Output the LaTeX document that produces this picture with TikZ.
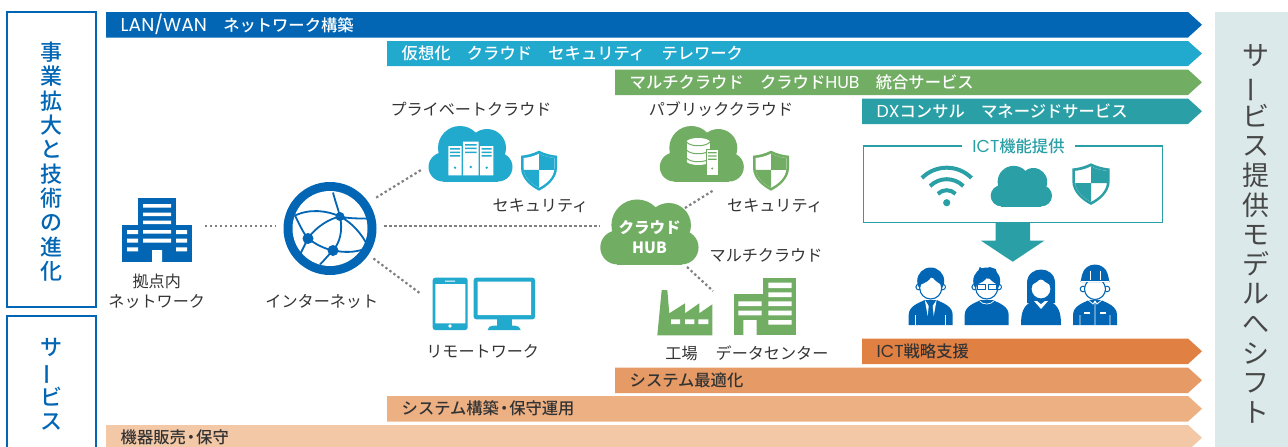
\documentclass[tikz,border=0pt]{standalone}
\usepackage{fontspec}
\usepackage{graphicx}
\setmainfont{Noto Sans CJK JP}
\newfontfamily\jpMedium{Noto Sans CJK JP Medium}
\newfontfamily\latinWide{Poppins}
\usetikzlibrary{positioning}
\definecolor{lanBlue}{RGB}{2, 102, 180}
\definecolor{cloudCyan}{RGB}{34, 169, 206}
\definecolor{hubGreen}{RGB}{114, 173, 100}
\definecolor{dxTeal}{RGB}{42, 159, 166}
\definecolor{ictOrange}{RGB}{224, 128, 67}
\definecolor{optOrange}{RGB}{230, 154, 102}
\definecolor{buildOrange}{RGB}{236, 176, 131}
\definecolor{saleOrange}{RGB}{243, 200, 166}
\definecolor{shiftPanel}{RGB}{220, 233, 234}
\definecolor{inkGray}{RGB}{51, 51, 51}
\definecolor{dotGray}{RGB}{128, 128, 128}
\newcommand{\shieldpath}{(0,0) .. controls (6,3) and (12,4.5) .. (18,5) -- (18,17) .. controls (18,28) and (8,36) .. (0,40) .. controls (-8,36) and (-18,28) .. (-18,17) -- (-18,5) .. controls (-12,4.5) and (-6,3) .. (0,0) -- cycle}
\newcommand{\nobar}{\rotatebox[origin=c]{90}{ー}}
\newcommand{\latin}[2][17.3]{{\latinWide\fontsize{#1}{18}\selectfont #2}}
% Band: name, left x, top y, bottom y, fill, label style, text
\newcommand{\bandrow}[7]{
    \fill [#5] (#2,#3) -- (1188,#3) -- (1202,{(#3+#4)/2}) -- (1188,#4) -- (#2,#4) -- cycle;
    \node (#1) [#6] at (#2+14.5,{(#3+#4)/2}) {#7};
}
\tikzset{
    % Text Styles
    bandWhite/.style={anchor=west, inner sep=0pt, text=white, font=\jpMedium\fontsize{16.3}{18}\selectfont},
    bandDark/.style={anchor=west, inner sep=0pt, text=inkGray, font=\jpMedium\fontsize{16.3}{18}\selectfont},
    iconLabel/.style={inner sep=0pt, text=inkGray, font=\fontsize{16.1}{18}\selectfont},
    sideLabel/.style={align=center, inner sep=0pt, text=lanBlue},
    % Line Styles
    sideBox/.style={draw=lanBlue, line width=1.8pt},
    dotLine/.style={draw=dotGray, line width=2.2pt, dash pattern=on 2.4pt off 2.6pt},
    % Icons
    pics/cloudicon/.style={code={
        \fill [#1] (-28,-15) circle [radius=14.5];
        \fill [#1] (-11,-34) circle [radius=22];
        \fill [#1] (16,-34) circle [radius=19];
        \fill [#1] (27,-15) circle [radius=14.5];
        \fill [#1] (-28,-24) rectangle (27,0);
    }},
    pics/shieldicon/.style={code={
        \fill [#1] \shieldpath;
        \begin{scope}[shift={(0,3)}, scale=.85]
            \fill [white] \shieldpath;
            \clip \shieldpath;
            \fill [#1] (0,0) rectangle (18,19) (-18,19) rectangle (0,40);
        \end{scope}
    }},
    pics/globeicon/.style={code={
        \fill [lanBlue] (0,0) circle [radius=46.5];
        \fill [white] (0,0) circle [radius=37.5];
        \draw [lanBlue, line width=1.8pt]
            (-35,-13) .. controls (-20,-20) and (-3,-18) .. (10,-12) .. controls (18,-10) and (28,-10) .. (37,-10)
            (3,-36) .. controls (5,-28) and (8,-20) .. (10,-12) .. controls (13,2) and (10,14) .. (3,22) .. controls (-2,27) and (-6,32) .. (-10,36)
            (-22,10) .. controls (-14,-2) and (0,-10) .. (10,-12) .. controls (22,-6) and (32,6) .. (37,16)
            (-35,-13) .. controls (-30,-3) and (-27,4) .. (-22,10) .. controls (-14,16) and (-6,20) .. (3,22) .. controls (14,24) and (24,24) .. (33,21)
            (-22,10) -- (-30,26);
        \fill [lanBlue] (-22,10) circle [radius=5.5] (3,22) circle [radius=5.5] (10,-12) circle [radius=4.5];
    }},
    pics/headicon/.style={code={
        \filldraw [fill=white, draw=lanBlue, line width=1pt] (-12,-38) circle [radius=2.8];
        \filldraw [fill=white, draw=lanBlue, line width=1pt] (12,-38) circle [radius=2.8];
        \fill [lanBlue] (0,-44) circle [radius=13.5];
        \filldraw [fill=white, draw=lanBlue, line width=1.1pt] (0,-37) circle [radius=11];
        \fill [lanBlue] (-11,-40) .. controls (-6,-42) and (-1,-44) .. (1,-49) .. controls (4,-44) and (8,-42) .. (11,-40) -- (10,-46) -- (0,-50) -- (-10,-46) -- cycle;
    }},
    pics/bodyicon/.style={code={
        \fill [lanBlue] (-22,0) -- (-22,-10) .. controls (-22,-19) and (-12,-22) .. (-6,-25) -- (6,-25) .. controls (12,-22) and (22,-19) .. (22,-10) -- (22,0) -- cycle;
    }},
    pics/personSuit/.style={code={
        \pic {bodyicon};
        \pic {headicon};
        \fill [white] (-6,-25.5) -- (-2,-19) -- (-3,-9) -- cycle;
        \fill [white] (6,-25.5) -- (2,-19) -- (3,-9) -- cycle;
        \draw [white, line width=.7pt] (-15,0) -- (-15,-10) (15,0) -- (15,-10);
    }},
    pics/personGlasses/.style={code={
        \pic {bodyicon};
        \pic {headicon};
        \fill [lanBlue] (-11,-47) -- (-7,-58) -- (-2,-55) -- (3,-58) -- (9,-56) -- (12,-46) -- cycle;
        \filldraw [fill=white, draw=lanBlue, line width=.8pt] (-9.5,-41) rectangle (-1.5,-36);
        \filldraw [fill=white, draw=lanBlue, line width=.8pt] (1.5,-41) rectangle (9.5,-36);
        \draw [white, line width=.7pt] (-7,-24) .. controls (-4,-20) and (4,-20) .. (7,-24);
    }},
    pics/personWoman/.style={code={
        \fill [lanBlue] (-20,0) .. controls (-20,-12) and (-18,-20) .. (-8,-24) -- (8,-24) .. controls (18,-20) and (20,-12) .. (20,0) -- cycle;
        \fill [lanBlue] (-14,-22) -- (-14,-42) .. controls (-14,-60) and (14,-60) .. (14,-42) -- (14,-22) -- cycle;
        \filldraw [fill=white, draw=lanBlue, line width=1.1pt] (0,-36) circle [radius=10];
        \fill [lanBlue] (-10,-40) .. controls (-5,-42) and (-1,-45) .. (0,-48) .. controls (1,-45) and (5,-42) .. (10,-40) -- (9,-47) -- (-9,-47) -- cycle;
        \fill [white] (-7,-24) -- (0,-16) -- (7,-24) -- cycle;
        \fill [lanBlue] (-5,-25) -- (5,-25) -- (0,-21) -- cycle;
    }},
    pics/personWorker/.style={code={
        \pic {bodyicon};
        \filldraw [fill=white, draw=lanBlue, line width=1pt] (-12,-36) circle [radius=2.8];
        \filldraw [fill=white, draw=lanBlue, line width=1pt] (12,-36) circle [radius=2.8];
        \filldraw [fill=white, draw=lanBlue, line width=1.1pt] (0,-36) circle [radius=10.5];
        \fill [lanBlue] (-14.5,-43) -- (-13,-50) .. controls (-10,-64) and (10,-64) .. (13,-50) -- (14.5,-43) -- cycle;
        \draw [white, line width=.7pt] (-5,-45) -- (-5,-54) (5,-45) -- (5,-54) (-14,-43.5) -- (14,-43.5);
        \draw [white, line width=.8pt] (0,0) -- (0,-24) (-8,-26) -- (-2,-21) -- (0,-24) -- (2,-21) -- (8,-26) (-15,0) -- (-15,-10) (15,0) -- (15,-10);
        \draw [white, line width=1.6pt] (-11,-12) -- (-5,-12) (5,-12) -- (11,-12);
    }}
}
\begin{document}
\begin{tikzpicture}[x=1pt, y=-1pt]
    \useasboundingbox (0,0) rectangle (1288,447);

    % --- SIDE PANELS ---
    \fill [shiftPanel] (1215,12) rectangle (1288,447);
    \node (shift) [align=center, inner sep=0pt, text=inkGray!90, font=\fontsize{27}{29.6}\selectfont] at (1255.5,234) {サ\\\nobar\\ビ\\ス\\提\\供\\モ\\デ\\ル\\へ\\シ\\フ\\ト};

    \draw [sideBox] (7,12) rectangle (96,307);
    \node (growth) [sideLabel, font=\jpMedium\fontsize{22}{24.35}\selectfont] at (51.5,161.5) {事\\業\\拡\\大\\と\\技\\術\\の\\進\\化};
    \draw [sideBox] (7,316) rectangle (96,455);
    \node (service) [sideLabel, font=\jpMedium\fontsize{22}{24.3}\selectfont] at (51,384) {サ\\\nobar\\ビ\\ス};

    % --- BANDS ---
    \bandrow{bandLan}{106}{12}{37.5}{lanBlue}{bandWhite}{\latin[18.6]{LAN/WAN}　ネットワーク構築}
    \bandrow{bandVirtual}{387}{41}{66}{cloudCyan}{bandWhite}{仮想化　クラウド　セキュリティ　テレワーク}
    \bandrow{bandMulti}{615}{69.5}{95}{hubGreen}{bandWhite}{マルチクラウド　クラウド\latin{HUB}　統合サービス}
    \bandrow{bandDx}{862}{98.5}{124}{dxTeal}{bandWhite}{\latin{DX}コンサル　マネージドサービス}
    \bandrow{bandIct}{862}{338.5}{364}{ictOrange}{bandDark}{\latin{ICT}戦略支援}
    \bandrow{bandOpt}{615}{367.5}{393}{optOrange}{bandDark}{システム最適化}
    \bandrow{bandBuild}{387}{396}{421.5}{buildOrange}{bandDark}{システム構築\kern-3pt・\kern-3pt 保守運用}
    \bandrow{bandSale}{106}{425}{450.5}{saleOrange}{bandDark}{機器販売\kern-3pt・\kern-3pt 保守}

    % --- LEFT SIDE (Site & Internet) ---
    \fill [lanBlue] (138.3,198) rectangle (176,262);
    \fill [lanBlue] (122.3,225) rectangle (191.7,262);
    \fill [white] (143,204) rectangle (171,207.5) (143,212.5) rectangle (171,216) (143,220.5) rectangle (171,224)
        (143,230) rectangle (171,233.5) (143,238.7) rectangle (171,242.7)
        (127,230) rectangle (138,234) (127,238.7) rectangle (138,242.7) (127,247.3) rectangle (138,251.3)
        (176,230) rectangle (187,234) (176,238.7) rectangle (187,242.7) (176,247.3) rectangle (187,251.3)
        (152,250) rectangle (162,262);
    \node (siteLabel) [iconLabel] at (156.7,281.5) {拠点内};
    \node (siteNet) [iconLabel] at (156.7,302) {ネットワーク};

    \pic at (330,228.5) {globeicon};
    \node (globe) [circle, minimum size=108pt, inner sep=0pt] at (330,226) {};
    \node (globeLabel) [iconLabel] at (321.8,302) {インターネット};

    % --- MIDDLE COLUMN (Private Cloud & Remote Work) ---
    \node (privateLabel) [iconLabel] at (471,109) {プライベートクラウド};
    \pic at (471,182) {cloudicon=cloudCyan};
    \fill [white] (448.3,146) rectangle (461.7,175.3) (463,141.7) rectangle (478.7,175.3) (480,146) rectangle (493.3,175.3);
    \fill [cloudCyan] (450,148) rectangle (460,149.5) (450,151.5) rectangle (460,153) (450,155) rectangle (460,156.5)
        (465,144) rectangle (476.7,145.5) (465,147.5) rectangle (476.7,149) (465,151.5) rectangle (476.7,153)
        (481.7,148) rectangle (491.7,149.5) (481.7,151.5) rectangle (491.7,153) (481.7,155) rectangle (491.7,156.5)
        (455,167.7) circle [radius=1.3] (470.7,167) circle [radius=1.4] (486.7,167.7) circle [radius=1.3];
    \pic at (539,150.7) {shieldicon=cloudCyan};
    \node (privateShield) [iconLabel] at (540.5,205.5) {セキュリティ};

    \fill [cloudCyan, rounded corners=2.5pt] (432.7,277.7) rectangle (467.7,330);
    \fill [cloudCyan, rounded corners=2.5pt] (473.7,277.7) rectangle (535,319.3);
    \fill [white] (435.3,284) rectangle (465.3,323.3) (477.7,281.7) rectangle (531,315)
        (445,280.5) rectangle (455,281.5) (450,326) circle [radius=1.9];
    \fill [cloudCyan] (496.7,319) rectangle (511.7,326);
    \fill [cloudCyan] (487.7,330) .. controls (488,327) and (490,325.7) .. (493,325.7) -- (515,325.7) .. controls (518,325.7) and (520,327) .. (520.7,330) -- cycle;
    \node (remoteLabel) [iconLabel] at (482.7,351) {リモートワーク};

    % --- HUB COLUMN (Public Cloud & Hub) ---
    \node (publicLabel) [iconLabel] at (721,109) {パブリッククラウド};
    \pic at (702.3,182) {cloudicon=hubGreen};
    \fill [white] (686.7,142) rectangle (710,161);
    \fill [white] (698.3,142) ellipse [x radius=11.7, y radius=4];
    \fill [white] (698.3,161) ellipse [x radius=11.7, y radius=4];
    \draw [hubGreen, line width=1pt] (686.7,142) .. controls (690,147) and (706,147) .. (710,142)
        (686.7,150) .. controls (690,155) and (706,155) .. (710,150) (686.7,158) .. controls (690,163) and (706,163) .. (710,158);
    \filldraw [fill=white, draw=hubGreen, line width=1pt] (706,149.3) rectangle (718.5,175.3);
    \fill [hubGreen] (708,152) rectangle (716.5,153.3) (708,155.3) rectangle (716.5,156.6) (708,158.6) rectangle (716.5,159.9) (712.2,168.5) circle [radius=1.2];
    \pic at (771,150.7) {shieldicon=hubGreen};
    \node (publicShield) [iconLabel] at (775,205.5) {セキュリティ};

    \pic [scale=1.17] at (650,265) {cloudicon=hubGreen};
    \node (hub) [align=center, inner sep=0pt, text=white, font=\bfseries\fontsize{15.5}{20.5}\selectfont] at (649.5,237) {クラウド\\HUB};
    \node (multiLabel) [iconLabel] at (766,255.7) {マルチクラウド};

    \fill [hubGreen] (657.3,335.3) -- (661.7,290) -- (667.3,290) -- (669.3,313.3) -- (685,303.3) -- (685,313.3) -- (699.3,303.3) -- (699.3,313.3) -- (712.3,304.3) -- (712.3,335.3) -- cycle;
    \fill [white] (671,319.3) rectangle (680,324) (685,319.3) rectangle (694.3,324) (698.3,319.3) rectangle (708.3,324);
    \fill [hubGreen] (763.3,277.7) rectangle (796,335.3);
    \fill [hubGreen] (733.7,294.3) rectangle (763.3,335.3);
    \fill [white] (768.3,282.7) rectangle (791.7,288) (768.3,292.3) rectangle (791.7,297) (768.3,301.3) rectangle (791.7,306)
        (768.3,310.7) rectangle (791.7,315.3) (768.3,320) rectangle (791.7,324.7)
        (738.3,301.3) rectangle (761.7,306) (738.3,310.7) rectangle (761.7,315.3) (743.3,320) rectangle (756.7,335.3);
    \node (plantLabel) [iconLabel] at (681.5,353) {工場};
    \node (centerLabel) [iconLabel] at (772,353) {データセンター};

    % --- RIGHT COLUMN (ICT Functions & Users) ---
    \draw [dxTeal, line width=1.8pt] (863.5,146) rectangle (1162.5,222.5);
    \node (ictBox) [fill=white, inner xsep=10pt, inner ysep=1pt, text=dxTeal, font=\jpMedium\fontsize{16.3}{18}\selectfont] at (1018.5,146) {\latin{ICT}機能提供};
    \fill [dxTeal] (946.7,202.7) circle [radius=3.6];
    \draw [dxTeal, line width=4pt] ([shift={(45:12.5pt)}]946.7,202.7) arc [start angle=45, end angle=135, radius=12.5pt]
        ([shift={(45:23.5pt)}]946.7,202.7) arc [start angle=45, end angle=135, radius=23.5pt]
        ([shift={(45:35pt)}]946.7,202.7) arc [start angle=45, end angle=135, radius=35pt];
    \pic [scale=.73] at (1021.7,206.7) {cloudicon=dxTeal};
    \pic [scale=1.04] at (1091,163.3) {shieldicon=dxTeal};
    \fill [dxTeal] (995.7,222) -- (1030,222) -- (1030,240.7) -- (1044.3,240.7) -- (1012.7,261.7) -- (981,240.7) -- (995.7,240.7) -- cycle;

    \pic at (930.7,325) {personSuit};
    \pic at (986.7,325) {personGlasses};
    \pic at (1041,325) {personWoman};
    \pic at (1095,325) {personWorker};

    % --- Connectors ---
    \coordinate (sitePort) at (205,226);
    \coordinate (privatePort) at (421,170);
    \coordinate (hubPort) at (600,226);
    \coordinate (remotePort) at (421,294);
    \coordinate (hubNorth) at (685,208);
    \coordinate (publicPort) at (714,190);
    \coordinate (hubSouth) at (687,267);
    \coordinate (plantPort) at (713,291);
    \draw [dotLine] (sitePort) -- (globe);
    \draw [dotLine] (globe) -- (privatePort);
    \draw [dotLine] (globe) -- (hubPort);
    \draw [dotLine] (globe) -- (remotePort);
    \draw [dotLine] (hubNorth) -- (publicPort);
    \draw [dotLine] (hubSouth) -- (plantPort);

\end{tikzpicture}
\end{document}
